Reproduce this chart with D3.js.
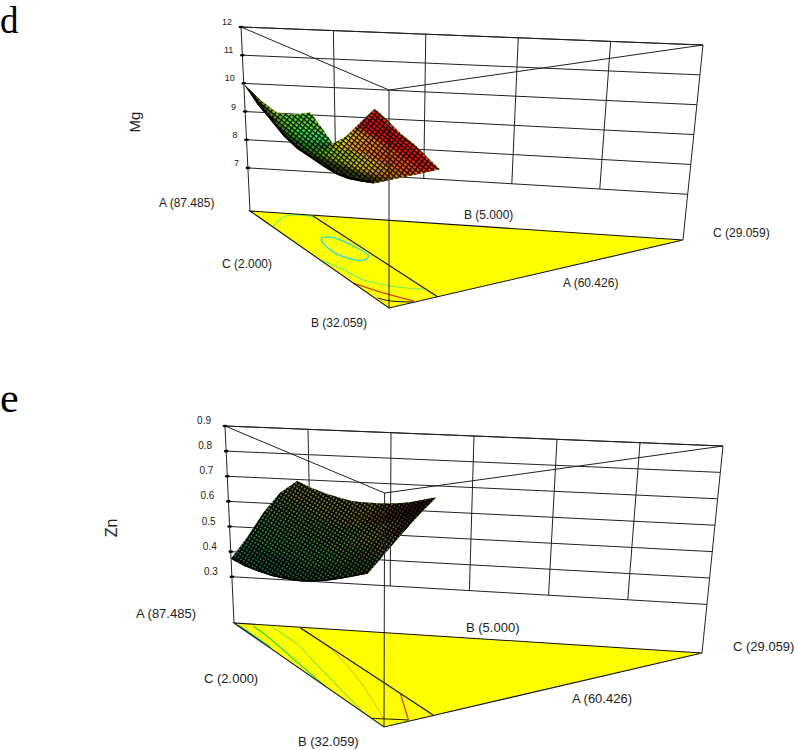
<!DOCTYPE html>
<html>
<head>
<meta charset="utf-8">
<style>
    html, body { margin: 0; background: #fff; }
    svg { display: block; }
    text { font-family: "Liberation Sans", sans-serif; fill: #222; }
    .panel-letter { font-family: "Liberation Serif", serif; fill: #000; }
</style>
<script src="https://cdn.jsdelivr.net/npm/d3@7"></script>
</head>
<body>
<svg id="chart" width="798" height="750"></svg>
<script>
// mixture limits, same for both panels
const bRange = [5, 32.059];
const cRange = [2, 29.059];

const mgTicks = [7, 8, 9, 10, 11, 12];
const znTicks = [0.3, 0.4, 0.5, 0.6, 0.7, 0.8, 0.9];
const mgWallC = [7.41, 12.82, 18.24, 23.65];
const znWallC = [6.51, 11.02, 15.53, 20.04, 24.55];

// far side of the surface, [b, c] at each end
const mgEdge = [[5.24, 5.86], [27.65, 6.47]];
const znEdge = [[5.2, 5.79], [27.67, 6.23]];
const nearEnd = [29.2, 2];

// response: rows run A to B, columns run from c = 2 to the far edge
const mgSurface = [
    [9.98, 9.43, 9.01, 8.99, 9.11],
    [9.50, 9.03, 8.75, 8.68, 8.72],
    [9.18, 8.78, 8.55, 8.45, 8.30],
    [8.87, 8.62, 8.55, 8.70, 9.00],
    [8.70, 8.58, 8.70, 9.15, 9.70],
    [8.65, 8.65, 8.95, 9.55, 10.30],
    [8.60, 8.70, 9.05, 9.55, 10.10],
    [8.58, 8.78, 9.10, 9.50, 9.88],
    [8.65, 8.85, 9.15, 9.45, 9.75],
    [8.79, 8.95, 9.15, 9.35, 9.55],
    [8.95, 9.05, 9.15, 9.25, 9.36]
];
const znSurface = [
    [0.372, 0.461, 0.563, 0.646, 0.696],
    [0.375, 0.455, 0.550, 0.632, 0.695],
    [0.386, 0.455, 0.540, 0.623, 0.698],
    [0.400, 0.462, 0.537, 0.620, 0.706],
    [0.419, 0.475, 0.545, 0.627, 0.716],
    [0.440, 0.495, 0.560, 0.645, 0.734],
    [0.467, 0.525, 0.585, 0.665, 0.753],
    [0.498, 0.555, 0.615, 0.695, 0.775],
    [0.532, 0.590, 0.655, 0.730, 0.800],
    [0.567, 0.630, 0.695, 0.765, 0.830],
    [0.602, 0.668, 0.735, 0.800, 0.859]
];

// floor contours as [b, c]
const mgContours = [
    { color: '#3fe0c0', width: 1.5, closed: true, points: [[12.17, 4.15], [11.36, 4.98], [12.87, 5.54], [16.45, 5.73], [17.77, 4.99], [17.49, 4.08], [15.36, 3.69]] },
    { color: '#70ee70', width: 1.2, points: [[9.46, 2.02], [6.16, 3.69], [5.26, 4.84], [5.54, 5.76]] },
    { color: '#70ee70', width: 1.2, points: [[18.66, 2.02], [20.8, 2.59], [23.94, 3.03], [25.4, 4.68], [25.5, 6.28]] },
    { color: '#d8401a', width: 1.3, points: [[25.09, 2], [27.3, 3.02], [29.38, 4.41]] },
    { color: '#111', width: 1, points: [[29.2, 2.2], [29.87, 2.83], [29.7, 4.3]] }
];
const znContours = [
    { color: '#30c878', width: 1.5, points: [[5.5, 2.1], [11.3, 2.1]] },
    { color: '#40d830', width: 1.3, points: [[5.5, 2.94], [8.11, 2.9], [13.4, 2.55], [21.5, 2]] },
    { color: '#90e040', width: 1.1, points: [[5.42, 4.07], [9.85, 4.07], [17.1, 3.25], [28.5, 2]] },
    { color: '#f0a820', width: 1, points: [[5.2, 5.7], [10.6, 5.8], [17.9, 4.9], [25.6, 3.54], [29.8, 2.7]] },
    { color: '#d8401a', width: 1.3, points: [[22.25, 6.1], [29.6, 4.2]] },
    { color: '#111', width: 1, points: [[29.8, 2], [29.7, 3.02], [29.6, 4.2]] }
];

const panels = [
    {
        id: 'mg', letter: 'd', title: 'Mg', letterAt: [0, 33], letterSize: 37,
        titleAt: [140, 122], titleSize: 15, tickSize: 9, labelSize: 12,
        floor: { a: [250, 211], b: [389, 308], c: [683, 240] },
        top: { a: [241, 27], b: [389, 90], c: [703, 45] },
        zDomain: [5.47, 12], ticks: mgTicks, wallC: mgWallC, edge: mgEdge,
        surface: mgSurface, contours: mgContours, tickFormat: d3.format('d'),
        tickOffset: [-9, -2], hatchAngle: 38, tile: [4.4, 3.6, 1.25, 1.25], tilt: 0.7, edgeWidth: 5,
        columnShade: [0.7, 0.12, 0, 0],
        toneDomain: [8.4, 8.8, 9.2, 9.5, 9.8, 10.05],
        toneRange: ['#40e8a0', '#30e038', '#b0e020', '#ffe020', '#ff7010', '#f01010'],
        labels: [
            ['A (87.485)', 159, 207], ['C (2.000)', 222, 268], ['B (32.059)', 311, 327],
            ['B (5.000)', 464, 219], ['A (60.426)', 563, 287], ['C (29.059)', 713, 237]
        ]
    },
    {
        id: 'zn', letter: 'e', title: 'Zn', letterAt: [0, 412], letterSize: 42,
        titleAt: [117, 528], titleSize: 16, tickSize: 10, labelSize: 13,
        floor: { a: [234, 623], b: [384, 727], c: [702, 653] },
        top: { a: [225, 426], b: [384.6, 493], c: [723, 446] },
        zDomain: [0.116, 0.9], ticks: znTicks, wallC: znWallC, edge: znEdge,
        surface: znSurface, contours: znContours, tickFormat: d3.format('.1f'),
        tickOffset: [-14, -2], hatchAngle: -58, tile: [3.6, 3.3, 1.6, 1.6], tilt: 0, edgeWidth: 3,
        columnShade: [0.25, 0, 0, 0],
        toneDomain: [0.37, 0.47, 0.6, 0.69, 0.75, 0.86],
        toneRange: ['#18a098', '#209040', '#4a8830', '#90802a', '#5a3018', '#2a0a06'],
        labels: [
            ['A (87.485)', 136, 618], ['C (2.000)', 204, 683], ['B (32.059)', 298, 746],
            ['B (5.000)', 466, 632], ['A (60.426)', 572, 703], ['C (29.059)', 733, 651]
        ]
    }
];

const svg = d3.select('#chart');
const defs = svg.append('defs');

defs.append('filter')
    .attr('id', 'soften')
    .attr('x', '-10%').attr('y', '-10%')
    .attr('width', '120%').attr('height', '120%')
    .append('feGaussianBlur')
    .attr('stdDeviation', 2.2);

panels.forEach(drawPanel);

/**
 * Returns a function that takes b, c and response z to a pixel position
 *
 * @param {Object} p - panel
 * @return {Function}
 */
function makeProjection(p) {
    const fb = d3.scaleLinear().domain(bRange).range([0, 1]);
    const fc = d3.scaleLinear().domain(cRange).range([0, 1]);
    const lift = d3.scaleLinear().domain(p.zDomain).range([0, 1]);
    const onPlane = (plane, u, v, i) => (1 - u - v) * plane.a[i] + u * plane.b[i] + v * plane.c[i];

    return (b, c, z) => {
        const u = fb(b), v = fc(c), w = lift(z);
        return [0, 1].map(i => onPlane(p.floor, u, v, i) * (1 - w) + onPlane(p.top, u, v, i) * w);
    };
}

/**
 * Build the facets of a surface, far column first so near ones paint over them
 *
 * @param {Object} p - panel
 * @param {Function} project
 * @return {Array}
 */
function getFacets(p, project) {
    const rows = p.surface.length, cols = p.surface[0].length;

    const node = (r, k) => {
        const g = r / (rows - 1), t = k / (cols - 1);
        const far = d3.interpolate(p.edge[0], p.edge[1])(g);
        const near = [5 + (nearEnd[0] - 5) * g, nearEnd[1]];
        return project(near[0] + (far[0] - near[0]) * t, near[1] + (far[1] - near[1]) * t, p.surface[r][k]);
    };

    const facets = [];
    for (let k = cols - 2; k >= 0; k--) {
        for (let r = 0; r < rows - 1; r++) {
            const s = p.surface;
            facets.push({
                points: [node(r, k), node(r + 1, k), node(r + 1, k + 1), node(r, k + 1)],
                z: d3.mean([s[r][k], s[r + 1][k], s[r + 1][k + 1], s[r][k + 1]]),
                g: (r + 0.5) / (rows - 1),
                k: k
            });
        }
    }
    return facets;
}

/**
 * Draw one complete plot: floor, contours, wall, surface and text
 *
 * @param {Object} p - panel
 */
function drawPanel(p) {
    const project = makeProjection(p);
    const g = svg.append('g').attr('id', `panel-${p.id}`);
    const [zMin, zMax] = p.zDomain;
    const bMax = bRange[1], cMax = cRange[1];
    const lowTick = d3.min(p.ticks);

    const corners = z => [project(bRange[0], cRange[0], z), project(bMax, cRange[0], z), project(bRange[0], cMax, z)];
    const polyline = d3.line();

    // floor
    g.append('path')
        .attr('d', polyline(corners(zMin)) + 'Z')
        .attr('fill', '#ffff00');

    const contourLine = d3.line()
        .x(d => project(d[0], d[1], zMin)[0])
        .y(d => project(d[0], d[1], zMin)[1]);

    g.selectAll('.contour')
        .data(p.contours)
        .join('path')
        .attr('class', 'contour')
        .attr('fill', 'none')
        .attr('stroke', d => d.color)
        .attr('stroke-width', d => d.width)
        .attr('d', d => contourLine.curve(d.closed ? d3.curveCatmullRomClosed : d3.curveCatmullRom)(d.points));

    // constraint line across the floor
    g.append('path')
        .attr('d', contourLine.curve(d3.curveLinear)(p.edge))
        .attr('fill', 'none')
        .attr('stroke', '#111')
        .attr('stroke-width', 1.1);

    const frame = g.append('g')
        .attr('fill', 'none')
        .attr('stroke', '#222')
        .attr('stroke-width', 1);

    frame.append('path').attr('d', polyline(corners(zMin)) + 'Z').attr('stroke', '#111').attr('stroke-width', 1.1);
    frame.append('path').attr('d', polyline(corners(zMax)) + 'Z');

    // wall grid behind the surface
    frame.selectAll('.level')
        .data(p.ticks)
        .join('path')
        .attr('class', 'level')
        .attr('d', z => polyline([project(bRange[0], cRange[0], z), project(bRange[0], cMax, z)]));

    frame.selectAll('.wall')
        .data(p.wallC)
        .join('path')
        .attr('class', 'wall')
        .attr('d', c => polyline([project(bRange[0], c, zMax), project(bRange[0], c, lowTick)]));

    frame.append('path').attr('d', polyline([project(bRange[0], cRange[0], zMin), project(bRange[0], cRange[0], zMax)]));
    frame.append('path').attr('d', polyline([project(bRange[0], cMax, zMin), project(bRange[0], cMax, zMax)]));

    // surface
    const facets = getFacets(p, project);
    const tone = d3.scaleLinear().domain(p.toneDomain).range(p.toneRange).clamp(true);
    const areas = facets.map(f => Math.abs(d3.polygonArea(f.points)));
    const shade = d3.scaleLinear().domain([20, d3.quantile(areas, 0.35, a => a)]).range([0.9, 0]).clamp(true);
    const facetColor = (f, i) => d3.interpolateRgb(tone(f.z + p.tilt * f.g), '#000')(Math.max(shade(areas[i]), p.columnShade[f.k]));

    defs.append('clipPath')
        .attr('id', `clip-${p.id}`)
        .selectAll('polygon')
        .data(facets)
        .join('polygon')
        .attr('points', f => f.points.join(' '));

    const [tileW, tileH, lineH, lineW] = p.tile;
    defs.append('pattern')
        .attr('id', `hatch-${p.id}`)
        .attr('patternUnits', 'userSpaceOnUse')
        .attr('width', tileW).attr('height', tileH)
        .attr('patternTransform', `rotate(${p.hatchAngle})`)
        .call(pattern => {
            pattern.append('rect').attr('width', tileW).attr('height', lineH).attr('fill', '#000');
            pattern.append('rect').attr('y', lineH).attr('width', lineW).attr('height', tileH - lineH).attr('fill', '#000');
        });

    const clipped = g.append('g').attr('clip-path', `url(#clip-${p.id})`);
    const bounds = facets.flatMap(f => f.points);
    const xs = d3.extent(bounds, d => d[0]), ys = d3.extent(bounds, d => d[1]);

    clipped.append('rect')
        .attr('x', xs[0]).attr('y', ys[0])
        .attr('width', xs[1] - xs[0]).attr('height', ys[1] - ys[0])
        .attr('fill', tone(d3.mean(p.toneDomain)));

    clipped.append('g')
        .attr('filter', 'url(#soften)')
        .selectAll('polygon')
        .data(facets)
        .join('polygon')
        .attr('points', f => f.points.join(' '))
        .attr('fill', facetColor)
        .attr('stroke', facetColor);

    clipped.append('rect')
        .attr('x', xs[0]).attr('y', ys[0])
        .attr('width', xs[1] - xs[0]).attr('height', ys[1] - ys[0])
        .attr('fill', `url(#hatch-${p.id})`);

    // near edge of the surface reads almost black because the mesh bunches up there
    const rows = p.surface.length;
    const nearEdge = p.surface.map((row, r) => {
        const g0 = r / (rows - 1);
        return project(5 + (nearEnd[0] - 5) * g0, nearEnd[1], row[0]);
    });
    clipped.append('path')
        .attr('d', polyline(nearEdge))
        .attr('fill', 'none')
        .attr('stroke', '#000')
        .attr('stroke-width', p.edgeWidth);

    // front post runs over the surface
    g.append('path')
        .attr('d', polyline([project(bMax, cRange[0], zMin), project(bMax, cRange[0], zMax)]))
        .attr('fill', 'none')
        .attr('stroke', '#222')
        .attr('stroke-width', 1);

    // axis dots and numbers
    g.selectAll('.tick-dot')
        .data(p.ticks)
        .join('ellipse')
        .attr('class', 'tick-dot')
        .attr('cx', z => project(bRange[0], cRange[0], z)[0])
        .attr('cy', z => project(bRange[0], cRange[0], z)[1])
        .attr('rx', 2.4).attr('ry', 1.3)
        .attr('fill', '#000');

    g.selectAll('.tick-label')
        .data(p.ticks)
        .join('text')
        .attr('class', 'tick-label')
        .attr('x', z => project(bRange[0], cRange[0], z)[0] + p.tickOffset[0])
        .attr('y', z => project(bRange[0], cRange[0], z)[1] + p.tickOffset[1])
        .attr('text-anchor', 'end')
        .attr('font-size', p.tickSize)
        .text(p.tickFormat);

    g.selectAll('.corner-label')
        .data(p.labels)
        .join('text')
        .attr('class', 'corner-label')
        .attr('x', d => d[1])
        .attr('y', d => d[2])
        .attr('font-size', p.labelSize)
        .text(d => d[0]);

    g.append('text')
        .attr('transform', `translate(${p.titleAt[0]},${p.titleAt[1]}) rotate(-90)`)
        .attr('text-anchor', 'middle')
        .attr('font-size', p.titleSize)
        .text(p.title);

    g.append('text')
        .attr('class', 'panel-letter')
        .attr('x', p.letterAt[0])
        .attr('y', p.letterAt[1])
        .attr('font-size', p.letterSize)
        .text(p.letter);
}
</script>
</body>
</html>
